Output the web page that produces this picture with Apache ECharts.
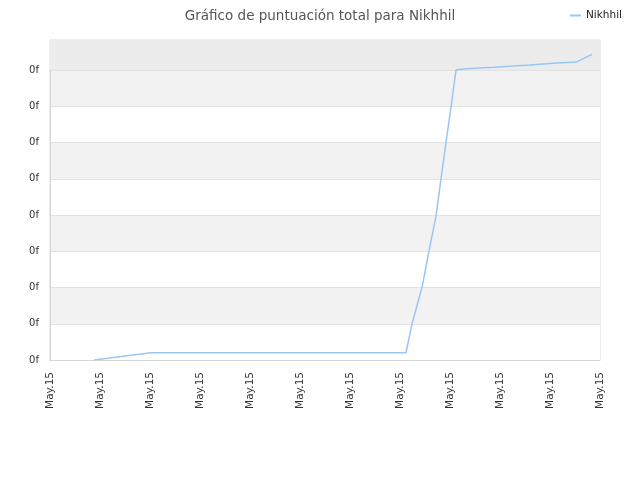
<!DOCTYPE html>
<html>
<head>
<meta charset="utf-8">
<script src="https://cdn.jsdelivr.net/npm/echarts@6/dist/echarts.min.js"></script>
<style>
  html, body { margin: 0; padding: 0; background: #fff; }
  #main { width: 640px; height: 480px; }
</style>
</head>
<body>
<div id="main"></div>
<script>
// datos (eje x: posicion temporal, eje y: puntuacion)
var xValues = [0.88, 2.02, 7.12, 7.24, 7.44, 7.56, 7.72, 7.82, 7.92, 8.02, 8.12, 8.28, 8.56, 8.88, 9.26, 9.6, 10.06, 10.52, 10.84];
var yValues = [0.0, 0.2, 0.2, 1.0, 2.0, 2.87, 3.97, 5.0, 6.0, 6.98, 8.0, 8.03, 8.06, 8.08, 8.11, 8.14, 8.19, 8.22, 8.43];
var xTickLabel = 'May.15';
var yTickLabel = '0f';
var seriesName = 'Nikhhil';

var points = xValues.map(function (x, i) { return [x, yValues[i]]; });

var myChart = echarts.init(document.getElementById('main'));
var option = {
  animation: false,
  title: {
    text: 'Gráfico de puntuación total para ' + seriesName,
    left: 'center',
    top: 4,
    textStyle: { fontFamily: 'DejaVu Sans', fontSize: 13.5, fontWeight: 'normal', color: '#555' }
  },
  legend: {
    data: [seriesName],
    right: 13,
    top: 5,
    icon: 'rect',
    itemWidth: 11,
    itemHeight: 2,
    itemGap: 5,
    textStyle: { fontFamily: 'DejaVu Sans', fontSize: 10.5, color: '#222' }
  },
  grid: {
    left: 50, right: 40, top: 40, bottom: 120,
    show: true,
    borderColor: '#dcdcdc',
    borderWidth: 1
  },
  xAxis: {
    type: 'value',
    min: 0,
    max: 11,
    interval: 1,
    axisLine: { show: true, lineStyle: { color: '#d6d6d6' } },
    axisTick: { show: false },
    splitLine: { show: false },
    axisLabel: {
      rotate: 90,
      margin: 12,
      fontFamily: 'DejaVu Sans',
      fontSize: 10.5,
      color: '#333',
      formatter: function () { return xTickLabel; }
    }
  },
  yAxis: {
    type: 'value',
    min: 0,
    max: 8.83,
    interval: 1,
    axisLine: { show: true, lineStyle: { color: '#d6d6d6' } },
    axisTick: { show: false },
    splitLine: { show: true, lineStyle: { color: '#e2e2e2' } },
    splitArea: { show: true, areaStyle: { color: ['#ffffff', '#f2f2f2'] } },
    axisLabel: {
      showMaxLabel: false,
      margin: 11,
      fontFamily: 'DejaVu Sans',
      fontSize: 10,
      color: '#333',
      formatter: function () { return yTickLabel; }
    }
  },
  series: [{
    name: seriesName,
    type: 'line',
    data: points,
    showSymbol: false,
    lineStyle: { color: '#99c7f3', width: 1.5 },
    itemStyle: { color: '#99c7f3' },
    markArea: {
      silent: true,
      itemStyle: { color: '#ececec' },
      data: [[{ yAxis: 8 }, { yAxis: 8.83 }]]
    }
  }]
};
myChart.setOption(option);
</script>
</body>
</html>
